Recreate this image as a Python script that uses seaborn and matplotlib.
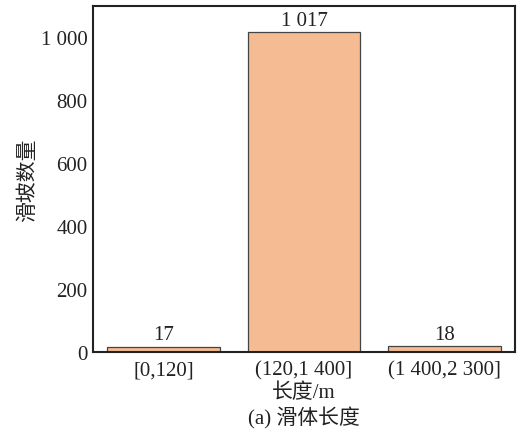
import matplotlib
matplotlib.use("Agg")
import matplotlib.pyplot as plt
import seaborn as sns
import pandas as pd

categories = ["[0,120]", "(120,1 400]", "(1 400,2 300]"]
counts = [17, 1017, 18]
count_labels = ["17", "1 017", "18"]
yticks = [0, 200, 400, 600, 800, 1000]
ytick_labels = ["0", "200", "400", "600", "800", "1 000"]

sns.set_theme(style="white")
plt.rcParams['font.family'] = ['Liberation Serif', 'Noto Sans CJK SC']
plt.rcParams['axes.unicode_minus'] = False

df = pd.DataFrame({"cat": categories, "count": counts})

fig = plt.figure(figsize=(5.31, 4.35), dpi=100)
ax = fig.add_axes([93/531, 1-353/435, (515-93)/531, (353-7)/435])
sns.barplot(data=df, x="cat", y="count", color="#F5BC93", saturation=1,
            width=0.8, edgecolor="#444444", linewidth=0.9, ax=ax)
ax.set_xlim(-0.5, 2.5)
ax.set_ylim(0, 1100)
ax.set_yticks(yticks)
ax.set_yticklabels(ytick_labels)
ax.tick_params(axis='y', direction='in', length=4, width=1.2, labelsize=15, colors='#222222', pad=4)
ax.tick_params(axis='x', length=0, labelsize=15, colors='#222222', pad=6)
for s in ax.spines.values():
    s.set_linewidth(1.5)
    s.set_color('#222222')
for i, (v, t) in enumerate(zip(counts, count_labels)):
    ax.text(i, v + 8, t, ha='center', va='bottom', fontsize=15, color='#222222')
ax.set_xlabel("长度/m", fontsize=15, color='#222222', labelpad=2)
ax.set_ylabel("滑坡数量", fontsize=15, color='#222222', labelpad=2)
fig.text(304/531, 1-418/435, "(a) 滑体长度", ha='center', va='center', fontsize=15, color='#222222')
fig.savefig("out.png", dpi=100)
